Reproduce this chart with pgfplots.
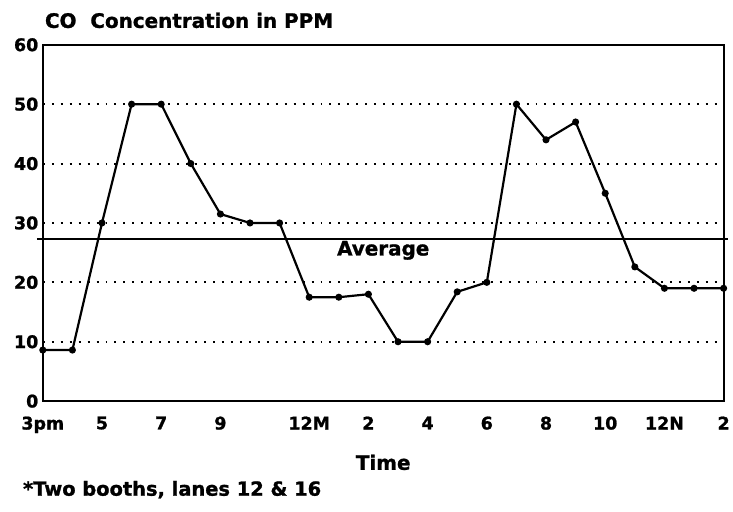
\documentclass[border=0pt]{standalone}
\usepackage{fontspec}
\setmainfont{DejaVu Sans}
\newfontfamily\heavy{DejaVu Sans Bold}[FakeBold=1.2]
\usepackage{pgfplots}
\pgfplotsset{compat=1.18}
\begin{document}
\begin{tikzpicture}
\begin{axis}[
  scale only axis, width=684pt, height=358pt,
  xmin=0, xmax=23, ymin=0, ymax=60,
  axis line style={line width=2pt},
  xtick={0,2,4,6,9,11,13,15,17,19,21,23},
  xticklabels={3pm,5,7,9,12M,2,4,6,8,10,12N,2},
  ytick={0,10,20,30,40,50,60},
  major tick length=0pt,
  tick label style={font=\heavy\fontsize{17.5}{18}\selectfont},
  /pgf/number format/assume math mode=true,
  xticklabel style={yshift=-12pt},
  yticklabel style={xshift=-1pt},
  ymajorgrids,
  grid style={line width=2pt, dash pattern=on 2pt off 7pt, black},
  clip=false,
]
\addplot[black, line width=2.2pt, mark=*, mark size=2.4pt] coordinates {
(0,8.6) (1,8.6) (2,30) (3,50) (4,50) (5,40) (6,31.5) (7,30) (8,30)
(9,17.5) (10,17.5) (11,18) (12,10) (13,10) (14,18.4) (15,20) (16,50)
(17,44) (18,47) (19,35) (20,22.6) (21,19) (22,19) (23,19)
};
\addplot[black, line width=2.8pt, forget plot] coordinates {(-0.2,27.3) (23.15,27.3)};
\node[anchor=north, inner sep=0pt, font=\heavy\fontsize{20}{20}\selectfont] at (axis cs:11.5,27.0) {Average};
\node[anchor=base west, inner sep=0pt, font=\heavy\fontsize{20}{20}\selectfont] at ([xshift=2pt,yshift=17pt]rel axis cs:0,1) {CO\ \ Concentration in PPM};
\node[anchor=base, inner sep=0pt, font=\heavy\fontsize{20}{20}\selectfont] at ([yshift=-69pt]rel axis cs:0.5,0) {Time};
\node[anchor=base west, inner sep=0pt, font=\heavy\fontsize{19.5}{20}\selectfont] at ([xshift=-20pt,yshift=-95pt]rel axis cs:0,0) {*Two booths, lanes 12 \& 16};
\end{axis}
\path (-43pt,-111pt) rectangle (690pt,403pt);
\end{tikzpicture}
\end{document}
